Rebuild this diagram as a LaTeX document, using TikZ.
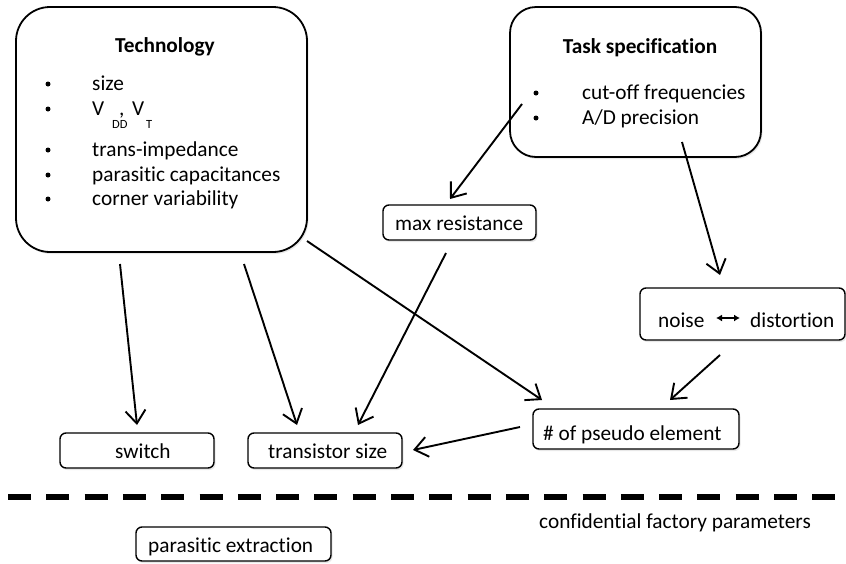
\documentclass[tikz,border=0pt]{standalone}
\usepackage{fontspec}
\setmainfont{Carlito}[Ligatures={NoCommon}]
\usetikzlibrary{arrows.meta,shadows}
\begin{document}
\begin{tikzpicture}[x=1pt,y=-1pt,
 shd/.style={drop shadow={opacity=0.18, shadow xshift=1.5pt, shadow yshift=-2pt}},
 box/.style={draw, line width=1.4pt, rounded corners=6pt, inner sep=0pt, fill=white, shd},
 bigbox/.style={draw, line width=1.8pt, inner sep=0pt, fill=white, shd},
 txt/.style={anchor=base west, inner sep=0pt, font=\fontsize{21.3}{25}\selectfont},
 ttl/.style={anchor=base, inner sep=0pt, font=\fontsize{21.3}{25}\selectfont\bfseries},
 bul/.style={anchor=center, circle, fill=black, inner sep=0pt, minimum size=5pt},
 subtxt/.style={anchor=base west, inner sep=0pt, font=\fontsize{12.5}{14}\selectfont},
 arr/.style={-{Straight Barb[length=13pt,width=20pt,line width=1.9pt]}, line width=1.9pt},
 sep/.style={line width=6pt, dash pattern=on 23pt off 15.3pt},
]
\useasboundingbox (0,0) rectangle (846,563);
% boxes
\node[bigbox, rounded corners=34pt, minimum width=291pt, minimum height=245pt] (tech) at (161.5,129.5) {};
\node[bigbox, rounded corners=26pt, minimum width=251pt, minimum height=150pt] (task) at (635.5,82) {};
\node[box, minimum width=153pt, minimum height=35pt] (maxr) at (459.5,222.5) {};
\node[box, minimum width=205pt, minimum height=52pt] (noise) at (742.5,314) {};
\node[box, minimum width=206pt, minimum height=40pt] (pseudo) at (636,429) {};
\node[box, minimum width=154pt, minimum height=35pt] (switch) at (137,450.5) {};
\node[box, minimum width=154pt, minimum height=35pt] (trans) at (325,450.5) {};
\node[box, minimum width=195pt, minimum height=34pt] (parx) at (233.5,544) {};
% technology text
\node[ttl] (techtitle) at (165,52) {Technology};
\node[bul] (tb1) at (48,84) {};
\node[bul] (tb2) at (48,109) {};
\node[bul] (tb3) at (48,150) {};
\node[bul] (tb4) at (48,175) {};
\node[bul] (tb5) at (48,199) {};
\node[txt] (t1) at (92,90) {size};
\node[txt] (t2a) at (92,115) {V};
\node[txt] (t2b) at (119,115) {,};
\node[txt] (t2c) at (132,115) {V};
\node[subtxt] (t2d) at (112,128) {DD};
\node[subtxt] (t2e) at (146,128) {T};
\node[txt] (t3) at (92,156) {trans-impedance};
\node[txt] (t4) at (92,181) {parasitic capacitances};
\node[txt] (t5) at (92,205) {corner variability};
% task text
\node[ttl] (tasktitle) at (640,53) {Task specification};
\node[bul] (sb1) at (536,93) {};
\node[bul] (sb2) at (536,118) {};
\node[txt] (s1) at (582,99) {cut-off frequencies};
\node[txt] (s2) at (582,124) {A/D precision};
% small box texts
\node[txt] (maxrt) at (395,230) {max resistance};
\node[txt] (noiset) at (658,327) {noise};
\node[txt] (distt) at (750,327) {distortion};
\coordinate (na) at (716,318);
\coordinate (nb) at (740,318);
\draw[{Latex[length=6pt,width=7pt]}-{Latex[length=6pt,width=7pt]}, line width=2.2pt] (na) -- (nb);
\node[txt] (pseudot) at (543,440) {\# of pseudo element};
\node[txt] (switcht) at (115,458) {switch};
\node[txt] (transt) at (268,458) {transistor size};
\node[txt] (parxt) at (148,552) {parasitic extraction};
\node[txt] (conf) at (539,528) {confidential factory parameters};
% separator
\coordinate (dl) at (8,497);
\coordinate (dr) at (840,497);
\draw[sep] (dl) -- (dr);
% arrow endpoints
\coordinate (a1s) at (522,104); \coordinate (a1e) at (450,199);
\coordinate (a2s) at (682,142); \coordinate (a2e) at (720,275);
\coordinate (a3s) at (720,355); \coordinate (a3e) at (670,400);
\coordinate (a4s) at (307,241); \coordinate (a4e) at (542,400);
\coordinate (a5s) at (446,253); \coordinate (a5e) at (358,425);
\coordinate (a6s) at (120,264); \coordinate (a6e) at (137,425);
\coordinate (a7s) at (244,264); \coordinate (a7e) at (297,425);
\coordinate (a8s) at (520,427); \coordinate (a8e) at (413,450);
\draw[arr] (a1s) -- (a1e);
\draw[arr] (a2s) -- (a2e);
\draw[arr] (a3s) -- (a3e);
\draw[arr] (a4s) -- (a4e);
\draw[arr] (a5s) -- (a5e);
\draw[arr] (a6s) -- (a6e);
\draw[arr] (a7s) -- (a7e);
\draw[arr] (a8s) -- (a8e);
\end{tikzpicture}
\end{document}
